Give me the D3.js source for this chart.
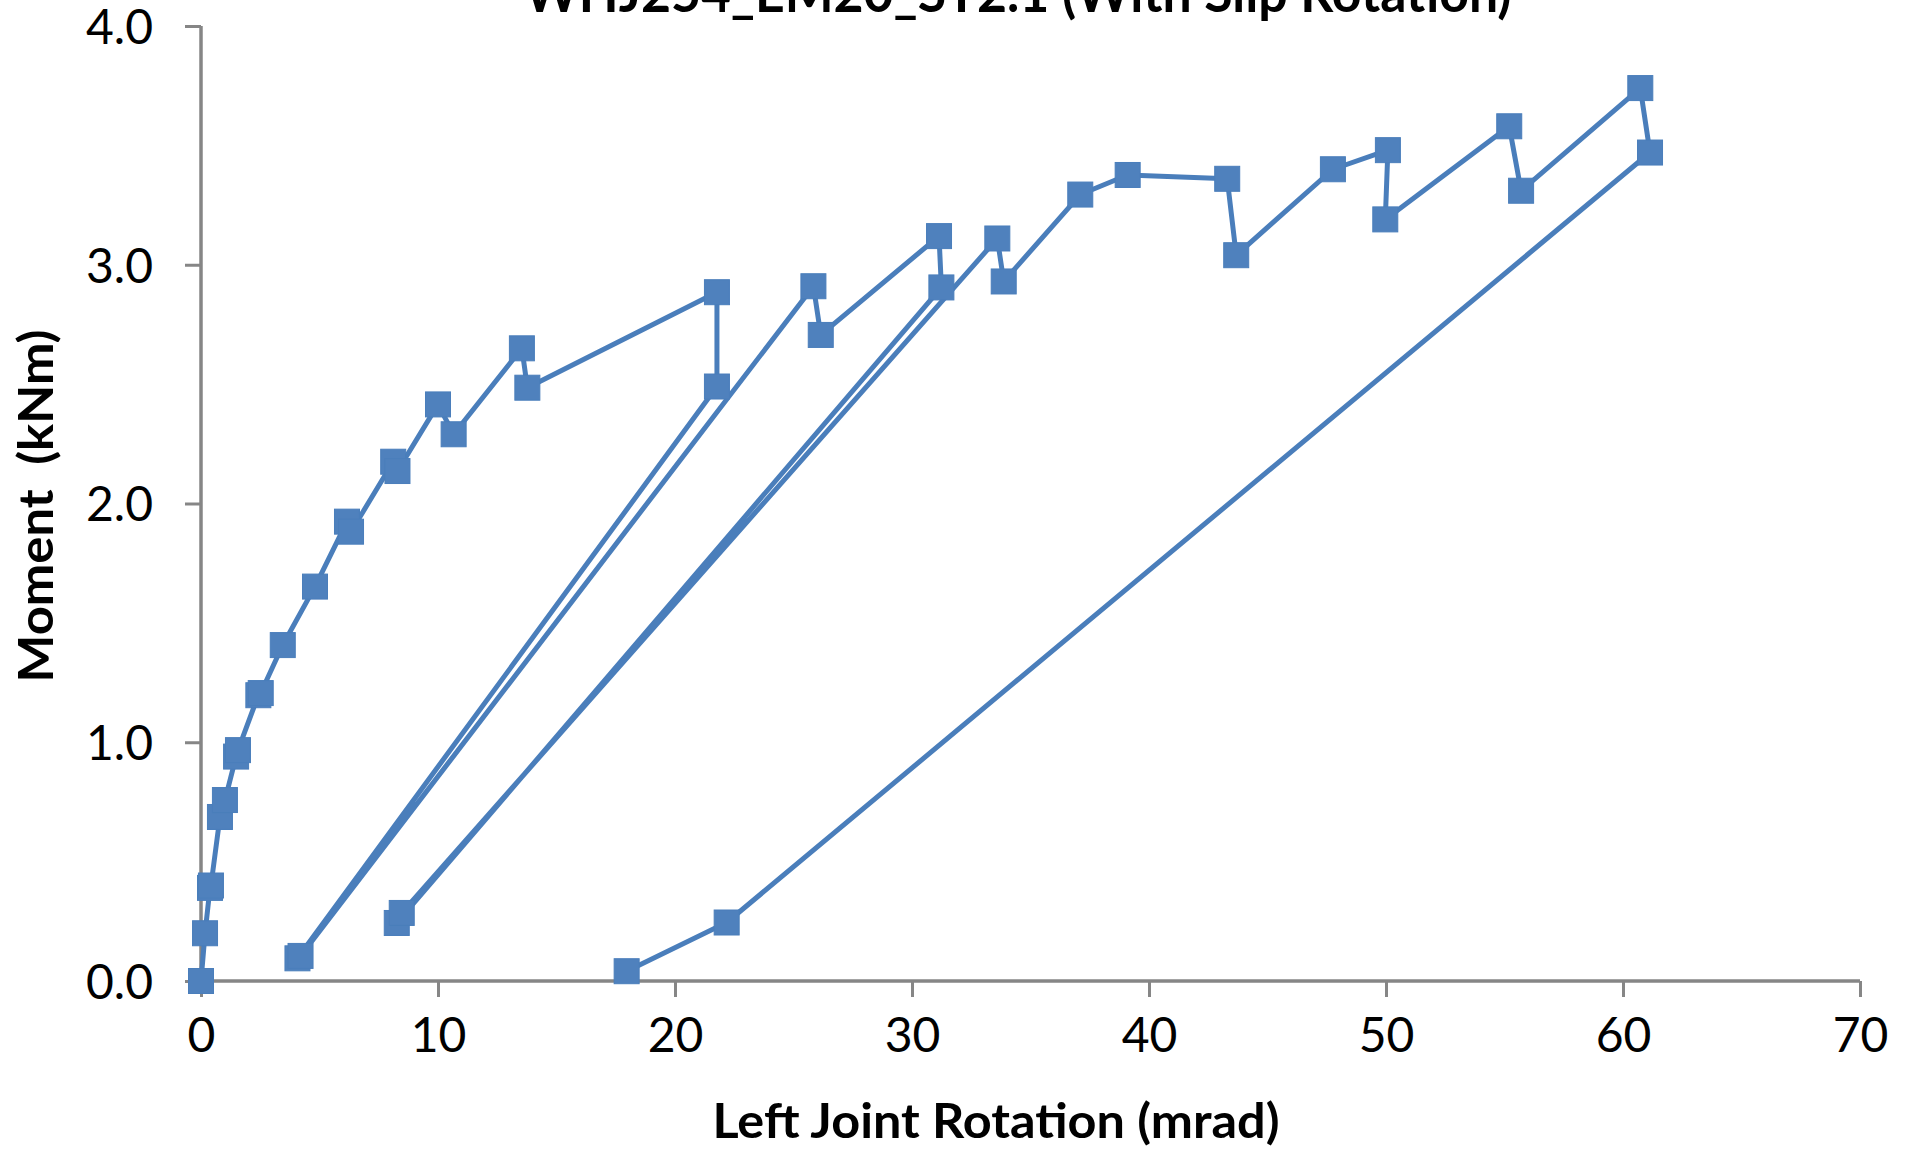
<!DOCTYPE html>
<html>
<head>
<meta charset="utf-8">
<script src="https://cdn.jsdelivr.net/npm/d3@7"></script>
<style>
  html, body { margin: 0; padding: 0; background: #ffffff; }
  svg { display: block; }
</style>
</head>
<body>
<svg id="chart" width="1911" height="1158"></svg>
<script>
// ---- data ----
const chartTitle = "WHJ254_EM20_ST2.1 (With Slip Rotation)";
const xTitle = "Left Joint Rotation (mrad)";
const yTitle = "Moment  (kNm)";

const rotation = [0, 0.17, 0.38, 0.42, 0.8, 1.01, 1.48, 1.56, 2.42, 2.52, 3.45, 4.81, 6.16, 6.33, 8.11, 8.29,
  10.0, 10.66, 13.54, 13.77, 21.77, 21.77, 4.07, 4.2, 25.84, 26.15, 31.14, 31.24, 8.26, 8.47,
  33.6, 33.87, 37.1, 39.1, 43.3, 43.68, 47.76, 50.08, 49.97, 55.2, 55.7, 60.73, 61.14, 22.18, 17.96];
const moment = [0, 0.2, 0.39, 0.4, 0.687, 0.758, 0.94, 0.967, 1.197, 1.206, 1.407, 1.652, 1.924, 1.882, 2.175, 2.136,
  2.415, 2.29, 2.65, 2.485, 2.885, 2.49, 0.095, 0.105, 2.91, 2.706, 3.12, 2.905, 0.243, 0.285,
  3.11, 2.93, 3.294, 3.376, 3.36, 3.04, 3.40, 3.48, 3.19, 3.58, 3.31, 3.74, 3.47, 0.245, 0.041];

const xTicks = [0, 10, 20, 30, 40, 50, 60, 70];
const yTicks = [0, 1, 2, 3, 4];

// ---- layout ----
const svg = d3.select("#chart");
const plotLeft = 201, plotRight = 1860, plotTop = 26, plotBottom = 981;
const axisColor = "#868686";
const lineColor = "#4A7EBB";
const markerColor = "#4F81BD";

const x = d3.scaleLinear().domain([0, 70]).range([plotLeft, plotRight]);
const y = d3.scaleLinear().domain([0, 4]).range([plotBottom, plotTop]);

const points = rotation.map((r, i) => ({ r, m: moment[i] }));

// axes
const xAxis = d3.axisBottom(x).tickValues(xTicks).tickSize(16).tickPadding(20).tickFormat(d3.format("d"));
const yAxis = d3.axisLeft(y).tickValues(yTicks).tickSize(16).tickPadding(32).tickFormat(d3.format(".1f"));

const gx = svg.append("g").attr("transform", `translate(0,${plotBottom})`).call(xAxis);
const gy = svg.append("g").attr("transform", `translate(${plotLeft},0)`).call(yAxis);

[gx, gy].forEach(g => {
  g.select(".domain").attr("stroke", axisColor).attr("stroke-width", 3.5);
  g.selectAll(".tick line").attr("stroke", axisColor).attr("stroke-width", 3);
  g.selectAll(".tick text")
    .attr("fill", "#000")
    .style("font-family", "Lato, 'Open Sans', sans-serif")
    .style("font-size", "48px");
});
gx.select(".domain").attr("d", `M${plotLeft},0H${plotRight}`);
gy.select(".domain").attr("d", `M0,${plotBottom}V${plotTop}`);
gy.selectAll(".tick text").attr("dy", "0.36em");
gx.selectAll(".tick text").attr("dy", "0.72em");

// series line
const line = d3.line().x(d => x(d.r)).y(d => y(d.m));
svg.append("path")
  .datum(points)
  .attr("fill", "none")
  .attr("stroke", lineColor)
  .attr("stroke-width", 5)
  .attr("stroke-linejoin", "round")
  .attr("d", line);

// markers
const ms = 25;
svg.append("g").selectAll("rect")
  .data(points)
  .join("rect")
  .attr("x", d => x(d.r) - ms / 2)
  .attr("y", d => y(d.m) - ms / 2)
  .attr("width", ms)
  .attr("height", ms)
  .attr("fill", markerColor)
  .attr("stroke", "#4A7EBB")
  .attr("stroke-width", 1);

// titles
svg.append("text")
  .attr("x", 1018).attr("y", 12)
  .attr("text-anchor", "middle")
  .attr("textLength", 987).attr("lengthAdjust", "spacingAndGlyphs")
  .style("font-family", "Lato, 'Open Sans', sans-serif")
  .style("font-weight", "bold")
  .style("font-size", "54px")
  .text(chartTitle);

svg.append("text")
  .attr("x", 996).attr("y", 1138)
  .attr("text-anchor", "middle")
  .attr("textLength", 567).attr("lengthAdjust", "spacingAndGlyphs")
  .style("font-family", "Lato, 'Open Sans', sans-serif")
  .style("font-weight", "bold")
  .style("font-size", "47px")
  .text(xTitle);

svg.append("text")
  .attr("transform", "translate(53,506) rotate(-90)")
  .attr("text-anchor", "middle")
  .attr("textLength", 353).attr("lengthAdjust", "spacingAndGlyphs")
  .style("font-family", "Lato, 'Open Sans', sans-serif")
  .style("font-weight", "bold")
  .style("font-size", "47px")
  .style("white-space", "pre")
  .text(yTitle);
</script>
</body>
</html>
